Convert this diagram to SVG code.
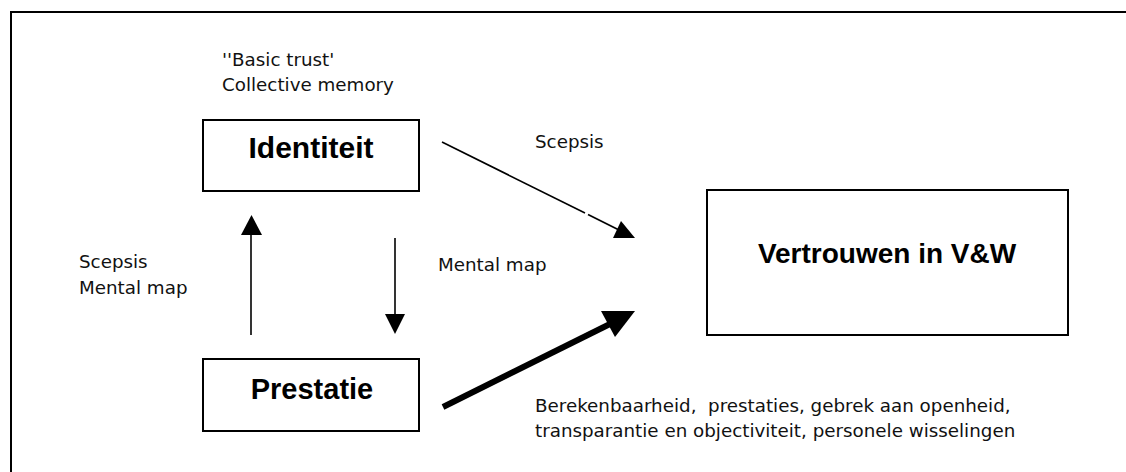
<svg xmlns="http://www.w3.org/2000/svg" width="1126" height="472" viewBox="0 0 1126 472">
<style>
.box{fill:#fff;stroke:#000;stroke-width:2}
.title{font-family:"Liberation Sans",Arial,sans-serif;font-weight:bold;fill:#000;text-anchor:middle}
.lbl{font-family:"DejaVu Sans","Liberation Sans",sans-serif;font-size:18.3px;fill:#111}
.ln{stroke:#000;stroke-width:1.6;fill:none}
.thick{stroke:#000;stroke-width:6;fill:none}
.head{fill:#000}
</style>
<rect width="1126" height="472" fill="#fff"/>
<path d="M11,472 V12 H1126" fill="none" stroke="#000" stroke-width="2"/>
<g id="identiteit">
<rect class="box" x="203" y="120" width="216" height="71"/>
<text class="title" x="311" y="158" font-size="30">Identiteit</text>
</g>
<g id="prestatie">
<rect class="box" x="203" y="359" width="216" height="72"/>
<text class="title" x="312" y="399" font-size="29">Prestatie</text>
</g>
<g id="vertrouwen">
<rect class="box" x="707" y="190" width="361" height="145"/>
<text class="title" x="887" y="263" font-size="28">Vertrouwen in V&amp;W</text>
</g>
<g id="connectors">
<line class="ln" x1="251" y1="335" x2="251" y2="233"/>
<polygon class="head" points="241,235 262,235 251.5,215"/>
<line class="ln" x1="395" y1="238" x2="395" y2="316"/>
<polygon class="head" points="385,314 405,314 395,334"/>
<line class="ln" x1="442" y1="142" x2="585" y2="213"/>
<line class="ln" x1="588" y1="214.5" x2="620" y2="230.5"/>
<polygon class="head" points="613,238 635,238 621,221"/>
<line class="thick" x1="443" y1="407" x2="614" y2="322"/>
<polygon class="head" points="601,311 635,311 615,337"/>
</g>
<g id="labels">
<text class="lbl" x="222" y="66">''Basic trust'</text>
<text class="lbl" x="222" y="91">Collective memory</text>
<text class="lbl" x="535" y="148">Scepsis</text>
<text class="lbl" x="438" y="271">Mental map</text>
<text class="lbl" x="79" y="268">Scepsis</text>
<text class="lbl" x="79" y="294">Mental map</text>
<text class="lbl" x="535" y="412" xml:space="preserve">Berekenbaarheid,  prestaties, gebrek aan openheid,</text>
<text class="lbl" x="535" y="437">transparantie en objectiviteit, personele wisselingen</text>
</g>
</svg>
